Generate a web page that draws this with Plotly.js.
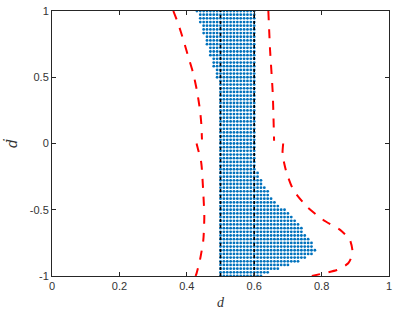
<!DOCTYPE html>
<html>
<head>
<meta charset="utf-8">
<script src="https://cdn.plot.ly/plotly-3.0.1.min.js"></script>
<style>html,body{margin:0;padding:0;background:#fff;}#chart{width:419px;height:316px;}</style>
</head>
<body>
<div id="chart"></div>
<script>
// ---- data ----
// grid of sampled states (blue dots)
var gridDStep = 0.01;
var gridDdotRows = 73;            // rows from -1 to 1
// boundary of the dotted region
var leftEdgeDdot  = [1, 0.39, -1];
var leftEdgeD     = [0.43, 0.5, 0.5];
var rightEdgeDdot = [1, -0.17, -0.4, -0.6, -0.8, -0.86, -1];
var rightEdgeD    = [0.6, 0.6, 0.65, 0.73, 0.785, 0.76, 0.62];

// red dashed boundary curves
var ulDdot = [1, 0.9, 0.78, 0.65, 0.53, 0.4, 0.255, 0.15, 0.03];
var ulD    = [0.36, 0.375, 0.39, 0.405, 0.419, 0.43, 0.439, 0.443, 0.445];
var llDdot = [0, -0.05, -0.1, -0.17, -0.375, -0.55, -0.73, -0.88, -0.98, -1];
var llD    = [0.429, 0.434, 0.44, 0.444, 0.449, 0.452, 0.449, 0.439, 0.429, 0.426];
var urDdot = [1, 0.71, 0.38, 0.02];
var urD    = [0.642, 0.647, 0.655, 0.659];
var lrDdot = [0, -0.08, -0.16, -0.22, -0.35, -0.476, -0.577, -0.652, -0.728, -0.829, -0.904, -0.955, -0.98, -1];
var lrD    = [0.686, 0.684, 0.69, 0.696, 0.716, 0.756, 0.805, 0.855, 0.884, 0.892, 0.879, 0.845, 0.805, 0.771];

// black dotted limits
var limitD = [0.5, 0.6];

var xTicks = [0, 0.2, 0.4, 0.6, 0.8, 1];
var xTickText = ["0", "0.2", "0.4", "0.6", "0.8", "1"];
var yTicks = [-1, -0.5, 0, 0.5, 1];
var yTickText = ["-1", "-0.5", "0", "0.5", "1"];

// ---- build ----
function interp(xs, ys, x) { // xs descending
  for (var i = 0; i < xs.length - 1; i++) {
    var a = xs[i], b = xs[i + 1];
    if (x <= a && x >= b) { var t = (a - x) / (a - b); return ys[i] + t * (ys[i + 1] - ys[i]); }
  }
  return ys[ys.length - 1];
}
var dotX = [], dotY = [];
for (var r = 0; r < gridDdotRows; r++) {
  var yd = -1 + 2 * r / (gridDdotRows - 1);
  var lo = interp(leftEdgeDdot, leftEdgeD, yd);
  var hi = interp(rightEdgeDdot, rightEdgeD, yd);
  for (var k = 0; k <= 100; k++) {
    var xd = k * gridDStep;
    if (xd >= lo - 1e-9 && xd <= hi + 1e-9) { dotX.push(xd); dotY.push(yd); }
  }
}

var red = {color: '#FF0000', width: 2, dash: 'dash', shape: 'spline', smoothing: 0.6};
var traces = [
  {x: dotX, y: dotY, mode: 'markers', type: 'scatter', marker: {color: '#0072BD', size: 2.8}, hoverinfo: 'skip'},
  {x: [limitD[0], limitD[0]], y: [-1, 1], mode: 'lines', line: {color: '#000', width: 1.6, dash: 'dot'}},
  {x: [limitD[1], limitD[1]], y: [-1, 1], mode: 'lines', line: {color: '#000', width: 1.6, dash: 'dot'}},
  {x: ulD, y: ulDdot, mode: 'lines', line: red},
  {x: llD, y: llDdot, mode: 'lines', line: red},
  {x: urD, y: urDdot, mode: 'lines', line: red},
  {x: lrD, y: lrDdot, mode: 'lines', line: red}
];

var axisCommon = {
  showgrid: false, zeroline: false, showline: true, linecolor: '#262626', linewidth: 1,
  mirror: 'allticks', ticks: 'inside', ticklen: 4, tickcolor: '#262626', tickwidth: 1,
  tickfont: {family: 'Liberation Sans, Arial, sans-serif', size: 11, color: '#333333'}
};
var layout = {
  width: 419, height: 316,
  margin: {l: 52, r: 30, t: 11, b: 40},
  paper_bgcolor: '#fff', plot_bgcolor: '#fff',
  showlegend: false,
  xaxis: Object.assign({}, axisCommon, {
    range: [0, 1], tickvals: xTicks, ticktext: xTickText,
    title: {text: '<i>d</i>', font: {family: 'Liberation Serif, Times New Roman, serif', size: 14, color: '#333333'}, standoff: 5}
  }),
  yaxis: Object.assign({}, axisCommon, {
    range: [-1, 1], tickvals: yTicks, ticktext: yTickText,
    title: {text: '<i>d\u0307</i>', font: {family: 'DejaVu Serif, serif', size: 14, color: '#333333'}, standoff: 8}
  })
};
Plotly.newPlot('chart', traces, layout, {displayModeBar: false, staticPlot: true});
</script>
</body>
</html>
